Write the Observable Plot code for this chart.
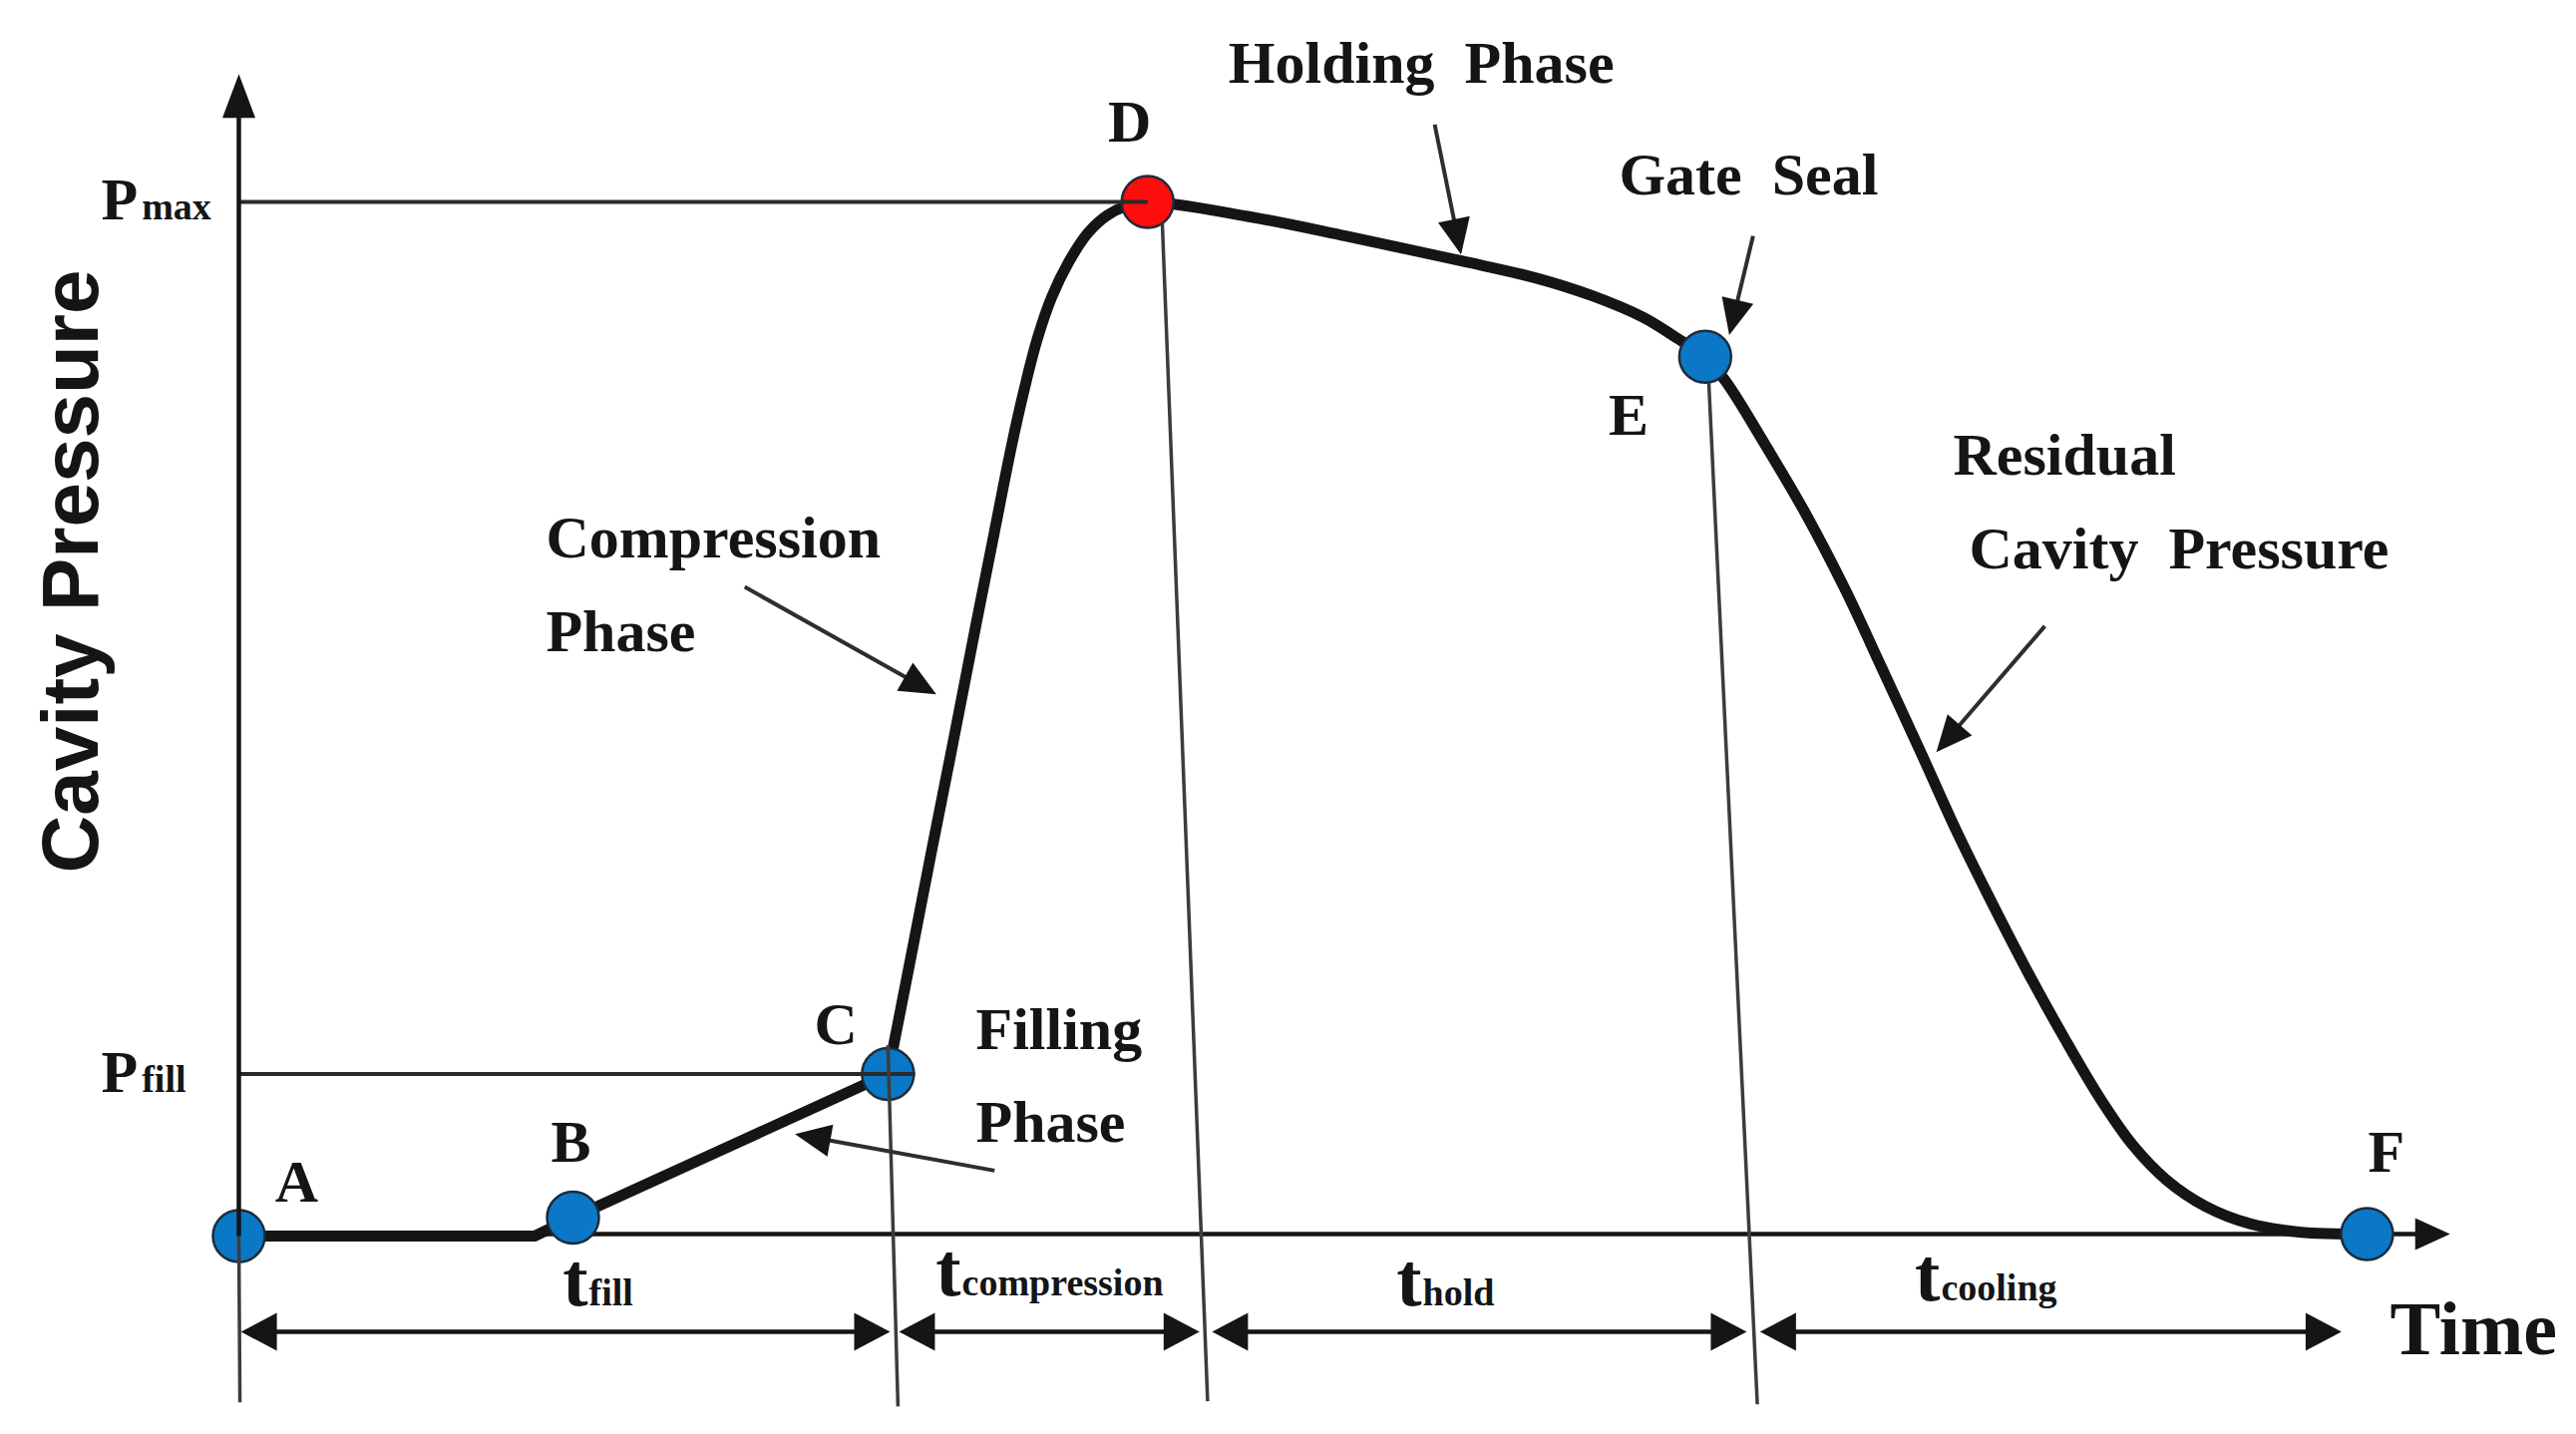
<!DOCTYPE html>
<html>
<head>
<meta charset="utf-8">
<script src="https://cdn.jsdelivr.net/npm/d3@7"></script>
<script src="https://cdn.jsdelivr.net/npm/@observablehq/plot@0.6"></script>
<style>
  html, body { margin: 0; padding: 0; background: #fff; }
  #chart svg { display: block; }
</style>
</head>
<body>
<div id="chart"></div>
<script>
// ---------------- DATA (time units: A = 0 … F = 100; pressure units: 0 … Pmax = 100) ----------------
const pointNames    = ["A", "B", "C", "D", "E", "F"];
const pointTime     = [0, 15.7, 30.5, 42.7, 68.9, 100];
const pointPressure = [-0.2, 1.6, 15.5, 100, 85, 0];
const pointRole     = ["stage", "stage", "stage", "peak", "stage", "stage"];

// filling phase (straight segments A → B → C)
const fillTime     = [0, 13.9, 15.7, 30.5];
const fillPressure = [-0.2, -0.2, 1.6, 15.5];

// compression, holding and residual phases (smooth, C → D → E → F)
const curveTime = [
  30.5, 31.5, 32.5, 33.5, 34.5, 35.5, 36.3, 36.9, 37.5, 38.2, 39.0, 39.9, 40.8, 41.7, 42.7,
  47.4, 52, 57.4, 61, 63.6, 66, 67.5, 68.9,
  69.87, 71.74, 73.62, 75.49, 77.21, 79.09, 80.65, 82.2, 84.0, 85.8, 87.5, 89.0, 90.6, 92.4, 94.5, 96.8, 100];
const curvePressure = [
  15.5, 26.0, 36.6, 47.0, 57.6, 68.0, 76.3, 81.8, 86.6, 90.8, 94.2, 97.0, 98.7, 99.6, 100,
  98.6, 96.7, 94.3, 92.6, 90.9, 88.8, 86.9, 85,
  82.6, 76.4, 69.8, 62.4, 54.8, 46.4, 39.3, 32.8, 25.6, 18.9, 13.0, 8.6, 5.2, 2.7, 1.0, 0.2, 0];

const pMax = 100, pFill = 15.5;
const pLevelNames = ["max", "fill"];
const pLevels = [pMax, pFill];
const pLevelEnd = [42.7, 31.77];          // guide lines end at D and just past C
const pLevelLabelTime = [-4.7, -4.7];
const pLevelLabelPressure = [98.3, 13.8];

// slanted boundary lines at A, C, D, E
const boundaryTopTime        = [0, 30.5, 43.39, 69.07];
const boundaryTopPressure    = [-0.2, 18.3, 98.0, 82.5];
const boundaryBottomTime     = [0.05, 30.97, 45.52, 71.35];
const boundaryBottomPressure = [-16.3, -16.7, -16.2, -16.5];

// interval dimension arrows
const intervalNames   = ["fill", "compression", "hold", "cooling"];
const intervalStart   = [0.1, 31.02, 45.73, 71.48];
const intervalEnd     = [30.6, 45.14, 70.85, 98.8];
const intervalLevel   = -9.47;
const intervalLabelTime     = [16.4, 33.93, 55.58, 79.94];
const intervalLabelPressure = [-6.86, -5.9, -6.86, -6.4];

// axis extents
const timeAxisEnd = 103.9;
const pressureAxisEnd = 112.4;

// phase annotations
const phaseLabels = ["Holding\u2002Phase", "Gate\u2002Seal", "Compression", "Phase", "Filling", "Phase", "Residual", "Cavity\u2002Pressure"];
const phaseLabelTime = [46.5, 64.85, 14.43, 14.43, 34.63, 34.63, 80.55, 81.3];
const phaseLabelPressure = [111.5, 100.7, 65.6, 56.5, 17.9, 8.9, 73.6, 64.5];

const pointLabelTime = [2.72, 15.6, 28.05, 41.85, 65.3, 100.9];
const pointLabelPressure = [3.1, 7.05, 18.4, 105.8, 77.4, 6.0];

// callout arrows (from label → to curve)
const calloutFromTime     = [56.19, 71.15, 23.77, 35.51, 84.86];
const calloutFromPressure = [107.5, 96.7, 62.7, 6.15, 58.9];
const calloutToTime       = [57.43, 70.03, 32.77, 26.13, 79.76];
const calloutToPressure   = [94.9, 87.1, 52.3, 9.69, 46.7];

const axisTitleY = "Cavity Pressure";
const axisTitleX = "Time";
const axisTitleYPos = [-6.65, 64.2];
const axisTitleXPos = [101.08, -11.6];

// ---------------- LAYOUT ----------------
const W = 2583, H = 1438;
const X_DOMAIN = [0, 100], X_RANGE = [239, 2373];
const Y_DOMAIN = [0, 100], Y_RANGE = [1237, 202];
const xs = d3.scaleLinear(X_DOMAIN, X_RANGE);
const ys = d3.scaleLinear(Y_DOMAIN, Y_RANGE);

const SERIF = "'Liberation Serif', 'Times New Roman', 'DejaVu Serif', serif";
const SANS = "'Liberation Sans', Arial, 'DejaVu Sans', sans-serif";
const INK = "#151515";

// arrowhead symbol: tip at origin, pointing to +x; length = r
const head = (w) => ({
  draw(ctx, size) {
    const L = Math.sqrt(size / Math.PI);
    ctx.moveTo(0, 0);
    ctx.lineTo(-L, -L * w);
    ctx.lineTo(-L, L * w);
    ctx.closePath();
  }
});
const angleOf = (t1, p1, t2, p2) => Math.atan2(ys(p2) - ys(p1), xs(t2) - xs(t1)) * 180 / Math.PI;
const pullBack = (t1, p1, t2, p2, px) => {
  const x1 = xs(t1), y1 = ys(p1), x2 = xs(t2), y2 = ys(p2);
  const d = Math.hypot(x2 - x1, y2 - y1);
  return [xs.invert(x2 - (x2 - x1) / d * px), ys.invert(y2 - (y2 - y1) / d * px)];
};

// ---------------- TABLES ----------------
const points = pointNames.map((n, i) => ({name: n, t: pointTime[i], p: pointPressure[i], role: pointRole[i],
  lt: pointLabelTime[i], lp: pointLabelPressure[i]}));
const fillCurve = fillTime.map((t, i) => ({t, p: fillPressure[i]}));
const mainCurve = curveTime.map((t, i) => ({t, p: curvePressure[i]}));
const levels = pLevelNames.map((n, i) => ({name: n, p: pLevels[i], t0: 0, end: pLevelEnd[i], lt: pLevelLabelTime[i], lp: pLevelLabelPressure[i]}));
const boundaries = boundaryTopTime.map((t, i) => ({t1: t, p1: boundaryTopPressure[i], t2: boundaryBottomTime[i], p2: boundaryBottomPressure[i]}));

const DIM_HEAD = 36;
const intervals = intervalNames.map((n, i) => {
  const a = pullBack(intervalEnd[i], intervalLevel, intervalStart[i], intervalLevel, DIM_HEAD / 2);
  const b = pullBack(intervalStart[i], intervalLevel, intervalEnd[i], intervalLevel, DIM_HEAD / 2);
  return {name: n, s: intervalStart[i], e: intervalEnd[i], s2: a[0], e2: b[0], p: intervalLevel,
    lt: intervalLabelTime[i], lp: intervalLabelPressure[i]};
});
const dimHeads = intervals.flatMap(d => [
  {t: d.s, p: d.p, angle: 180},
  {t: d.e, p: d.p, angle: 0}
]);

const CALL_HEAD = 36;
const callouts = calloutFromTime.map((t, i) => {
  const [t2, p2] = pullBack(t, calloutFromPressure[i], calloutToTime[i], calloutToPressure[i], CALL_HEAD / 2);
  return {t1: t, p1: calloutFromPressure[i], t2: calloutToTime[i], p2: calloutToPressure[i], st: t2, sp: p2,
    angle: angleOf(t, calloutFromPressure[i], calloutToTime[i], calloutToPressure[i])};
});

const xAxisEndShaft = pullBack(0, 0, timeAxisEnd, 0, 17);
const yAxisEndShaft = pullBack(0, 0, 0, pressureAxisEnd, 22);
const axes = [{t1: 0, p1: 0, t2: xAxisEndShaft[0], p2: 0}];
const yAxisLine = [{t1: 0, p1: pointPressure[0], t2: 0, p2: yAxisEndShaft[1]}];
const axisHeadsX = [{t: timeAxisEnd, p: 0, angle: 0}];
const axisHeadsY = [{t: 0, p: pressureAxisEnd, angle: -90}];

const phaseText = phaseLabels.map((s, i) => ({s, t: phaseLabelTime[i], p: phaseLabelPressure[i]}));
const titleX = [{s: axisTitleX, t: axisTitleXPos[0], p: axisTitleXPos[1]}];
const titleY = [{s: axisTitleY, t: axisTitleYPos[0], p: axisTitleYPos[1]}];

// ---------------- PLOT ----------------
const chart = Plot.plot({
  width: W,
  height: H,
  margin: 0,
  x: {domain: X_DOMAIN, range: X_RANGE, axis: null},
  y: {domain: Y_DOMAIN, range: Y_RANGE, axis: null},
  color: {domain: ["stage", "peak"], range: ["#0a78c6", "#ff0d0d"]},
  style: {background: "#fff", fontFamily: SERIF, color: INK, overflow: "visible"},
  marks: [
    // time axis
    Plot.link(axes, {x1: "t1", y1: "p1", x2: "t2", y2: "p2", stroke: INK, strokeWidth: 4.5}),
    Plot.dot(axisHeadsX, {x: "t", y: "p", rotate: "angle", r: 35, symbol: head(0.46), fill: INK, stroke: "none"}),

    // pressure curve
    Plot.line(fillCurve, {x: "t", y: "p", stroke: INK, strokeWidth: 11, strokeLinejoin: "round", strokeLinecap: "butt"}),
    Plot.line(mainCurve, {x: "t", y: "p", curve: "catmull-rom", stroke: INK, strokeWidth: 11, strokeLinejoin: "round", strokeLinecap: "round"}),

    // stage points
    Plot.dot(points, {x: "t", y: "p", r: 26, fill: "role", stroke: "#1d2b3a", strokeWidth: 2.5}),

    // guide lines on top of the points
    Plot.link(levels, {x1: "t0", x2: "end", y1: "p", y2: "p", stroke: "#2a2a2a", strokeWidth: 4}),
    Plot.link(boundaries, {x1: "t1", y1: "p1", x2: "t2", y2: "p2", stroke: "#3c3c3c", strokeWidth: 3.5}),
    Plot.link(yAxisLine, {x1: "t1", y1: "p1", x2: "t2", y2: "p2", stroke: INK, strokeWidth: 4.5}),
    Plot.dot(axisHeadsY, {x: "t", y: "p", rotate: "angle", r: 44, symbol: head(0.375), fill: INK, stroke: "none"}),

    // interval dimension arrows
    Plot.link(intervals, {x1: "s2", x2: "e2", y1: "p", y2: "p", stroke: INK, strokeWidth: 4.5}),
    Plot.dot(dimHeads, {x: "t", y: "p", rotate: "angle", r: DIM_HEAD, symbol: head(0.53), fill: INK, stroke: "none"}),

    // callouts
    Plot.link(callouts, {x1: "t1", y1: "p1", x2: "st", y2: "sp", stroke: "#2e2e2e", strokeWidth: 4}),
    Plot.dot(callouts, {x: "t2", y: "p2", rotate: "angle", r: CALL_HEAD, symbol: head(0.45), fill: INK, stroke: "none"}),

    // labels
    Plot.text(phaseText, {x: "t", y: "p", text: "s", textAnchor: "start", lineAnchor: "bottom",
      fontSize: 60, fontWeight: "bold", fill: INK}),
    Plot.text(points, {x: "lt", y: "lp", text: "name", textAnchor: "middle", lineAnchor: "bottom",
      fontSize: 60, fontWeight: "bold", fill: INK}),
    Plot.text(levels, {x: "lt", y: "lp", text: () => "P", textAnchor: "end", lineAnchor: "bottom",
      fontSize: 60, fontWeight: "bold", fill: INK, dx: -1}),
    Plot.text(levels, {x: "lt", y: "lp", text: "name", textAnchor: "start", lineAnchor: "bottom",
      fontSize: 38, fontWeight: "bold", fill: INK, dx: 3}),
    Plot.text(intervals, {x: "lt", y: "lp", text: () => "t", textAnchor: "end", lineAnchor: "bottom",
      fontSize: 76, fontWeight: "bold", fill: INK}),
    Plot.text(intervals, {x: "lt", y: "lp", text: "name", textAnchor: "start", lineAnchor: "bottom",
      fontSize: 38, fontWeight: "bold", fill: INK, dx: 1}),
    Plot.text(titleX, {x: "t", y: "p", text: "s", textAnchor: "start",
      lineAnchor: "bottom", fontSize: 76, fontWeight: "bold", fill: INK}),
    Plot.text(titleY, {x: "t", y: "p", text: "s", rotate: -90,
      textAnchor: "middle", lineAnchor: "bottom", fontSize: 80, fontWeight: "bold", fontFamily: SANS, fill: INK})
  ]
});
document.getElementById("chart").append(chart);
</script>
</body>
</html>
